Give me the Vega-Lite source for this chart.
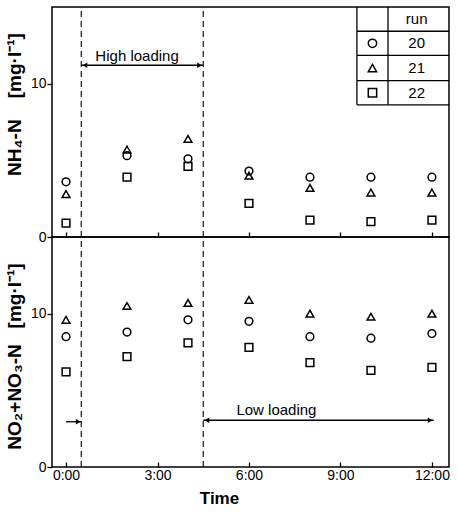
{
  "$schema": "https://vega.github.io/schema/vega-lite/v6.json",
  "padding": {"left": 4, "top": 5, "right": 8, "bottom": 5},
  "spacing": 0,
  "bounds": "flush",
  "config": {
    "font": "Liberation Sans",
    "view": {"stroke": "black", "strokeWidth": 1.5},
    "axis": {
      "domain": false, "grid": false,
      "tickColor": "black", "tickWidth": 1.3,
      "labelColor": "black", "titleColor": "black",
      "labelFontSize": 14, "titleFontSize": 19, "titleFontWeight": "bold"
    },
    "text": {"color": "black", "font": "Liberation Sans"}
  },
  "datasets": {
    "obs": [
      {"panel": "NH4", "t": 0, "run": "20", "v": 3.6},
      {"panel": "NH4", "t": 0, "run": "21", "v": 2.8},
      {"panel": "NH4", "t": 0, "run": "22", "v": 0.9},
      {"panel": "NH4", "t": 2, "run": "20", "v": 5.3},
      {"panel": "NH4", "t": 2, "run": "21", "v": 5.7},
      {"panel": "NH4", "t": 2, "run": "22", "v": 3.9},
      {"panel": "NH4", "t": 4, "run": "20", "v": 5.1},
      {"panel": "NH4", "t": 4, "run": "21", "v": 6.4},
      {"panel": "NH4", "t": 4, "run": "22", "v": 4.6},
      {"panel": "NH4", "t": 6, "run": "20", "v": 4.3},
      {"panel": "NH4", "t": 6, "run": "21", "v": 4.0},
      {"panel": "NH4", "t": 6, "run": "22", "v": 2.2},
      {"panel": "NH4", "t": 8, "run": "20", "v": 3.9},
      {"panel": "NH4", "t": 8, "run": "21", "v": 3.2},
      {"panel": "NH4", "t": 8, "run": "22", "v": 1.1},
      {"panel": "NH4", "t": 10, "run": "20", "v": 3.9},
      {"panel": "NH4", "t": 10, "run": "21", "v": 2.9},
      {"panel": "NH4", "t": 10, "run": "22", "v": 1.0},
      {"panel": "NH4", "t": 12, "run": "20", "v": 3.9},
      {"panel": "NH4", "t": 12, "run": "21", "v": 2.9},
      {"panel": "NH4", "t": 12, "run": "22", "v": 1.1},
      {"panel": "NOX", "t": 0, "run": "20", "v": 8.5},
      {"panel": "NOX", "t": 0, "run": "21", "v": 9.6},
      {"panel": "NOX", "t": 0, "run": "22", "v": 6.2},
      {"panel": "NOX", "t": 2, "run": "20", "v": 8.8},
      {"panel": "NOX", "t": 2, "run": "21", "v": 10.5},
      {"panel": "NOX", "t": 2, "run": "22", "v": 7.2},
      {"panel": "NOX", "t": 4, "run": "20", "v": 9.6},
      {"panel": "NOX", "t": 4, "run": "21", "v": 10.7},
      {"panel": "NOX", "t": 4, "run": "22", "v": 8.1},
      {"panel": "NOX", "t": 6, "run": "20", "v": 9.5},
      {"panel": "NOX", "t": 6, "run": "21", "v": 10.9},
      {"panel": "NOX", "t": 6, "run": "22", "v": 7.8},
      {"panel": "NOX", "t": 8, "run": "20", "v": 8.5},
      {"panel": "NOX", "t": 8, "run": "21", "v": 10.0},
      {"panel": "NOX", "t": 8, "run": "22", "v": 6.8},
      {"panel": "NOX", "t": 10, "run": "20", "v": 8.4},
      {"panel": "NOX", "t": 10, "run": "21", "v": 9.8},
      {"panel": "NOX", "t": 10, "run": "22", "v": 6.3},
      {"panel": "NOX", "t": 12, "run": "20", "v": 8.7},
      {"panel": "NOX", "t": 12, "run": "21", "v": 10.0},
      {"panel": "NOX", "t": 12, "run": "22", "v": 6.5}
    ],
    "dashes": [
      {"t": 0.5, "v": 0, "t2": 0.5, "v2": 15},
      {"t": 4.5, "v": 0, "t2": 4.5, "v2": 15}
    ],
    "segs": [
      {"panel": "NH4", "t": 0.5, "v": 11.2, "t2": 4.5, "v2": 11.2},
      {"panel": "NH4", "t": 9.54, "v": 15, "t2": 9.54, "v2": 8.62},
      {"panel": "NH4", "t": 10.56, "v": 15, "t2": 10.56, "v2": 8.62},
      {"panel": "NH4", "t": 9.54, "v": 13.42, "t2": 12.56, "v2": 13.42},
      {"panel": "NH4", "t": 9.54, "v": 11.84, "t2": 12.56, "v2": 11.84},
      {"panel": "NH4", "t": 9.54, "v": 10.2, "t2": 12.56, "v2": 10.2},
      {"panel": "NH4", "t": 9.54, "v": 8.62, "t2": 12.56, "v2": 8.62},
      {"panel": "NOX", "t": 0.0, "v": 2.95, "t2": 0.5, "v2": 2.95},
      {"panel": "NOX", "t": 4.5, "v": 3.05, "t2": 12.06, "v2": 3.05}
    ],
    "heads": [
      {"panel": "NH4", "t": 0.62, "v": 11.2, "dir": "left"},
      {"panel": "NH4", "t": 4.38, "v": 11.2, "dir": "right"},
      {"panel": "NOX", "t": 0.4, "v": 2.95, "dir": "right"},
      {"panel": "NOX", "t": 4.62, "v": 3.05, "dir": "left"},
      {"panel": "NOX", "t": 11.94, "v": 3.05, "dir": "right"}
    ],
    "key": [
      {"t": 10.05, "v": 12.63, "run": "20"},
      {"t": 10.05, "v": 11.02, "run": "21"},
      {"t": 10.05, "v": 9.41, "run": "22"}
    ],
    "notes": [
      {"panel": "NH4", "t": 2.33, "v": 11.8, "label": "High loading"},
      {"panel": "NH4", "t": 11.5, "v": 14.2, "label": "run"},
      {"panel": "NH4", "t": 11.5, "v": 12.63, "label": "20"},
      {"panel": "NH4", "t": 11.5, "v": 11.02, "label": "21"},
      {"panel": "NH4", "t": 11.5, "v": 9.41, "label": "22"},
      {"panel": "NOX", "t": 6.9, "v": 3.75, "label": "Low loading"}
    ]
  },
  "vconcat": [
    {
      "width": 397,
      "height": 230,
      "encoding": {
        "x": {
          "field": "t", "type": "quantitative",
          "scale": {"domain": [-0.46, 12.56], "nice": false, "zero": false},
          "axis": {"values": [0, 3, 6, 9, 12], "labels": false, "tickSize": -5, "title": null, "minExtent": 0, "maxExtent": 0}
        },
        "y": {
          "field": "v", "type": "quantitative",
          "scale": {"domain": [0, 15], "nice": false},
          "axis": {"values": [0, 10], "tickSize": 5, "labelPadding": 1, "title": "NH₄-N\u00a0\u00a0\u00a0\u00a0[mg·l⁻¹]", "titlePadding": 6, "titleY": 97}
        }
      },
      "layer": [
        {
          "data": {"name": "dashes"},
          "mark": {"type": "rule", "strokeDash": [6, 4], "strokeWidth": 1.1, "color": "black"},
          "encoding": {"x2": {"field": "t2"}, "y2": {"field": "v2"}}
        },
        {
          "data": {"name": "segs"},
          "transform": [{"filter": "datum.panel === 'NH4'"}],
          "mark": {"type": "rule", "strokeWidth": 1.3, "color": "black"},
          "encoding": {"x2": {"field": "t2"}, "y2": {"field": "v2"}}
        },
        {
          "data": {"name": "heads"},
          "transform": [{"filter": "datum.panel === 'NH4' && datum.dir === 'right'"}],
          "mark": {"type": "point", "shape": "triangle-right", "filled": true, "color": "black", "size": 30, "opacity": 1},
          "encoding": {}
        },
        {
          "data": {"name": "heads"},
          "transform": [{"filter": "datum.panel === 'NH4' && datum.dir === 'left'"}],
          "mark": {"type": "point", "shape": "triangle-left", "filled": true, "color": "black", "size": 30, "opacity": 1},
          "encoding": {}
        },
        {
          "data": {"name": "notes"},
          "transform": [{"filter": "datum.panel === 'NH4'"}],
          "mark": {"type": "text", "fontSize": 15, "align": "center", "baseline": "middle"},
          "encoding": {"text": {"field": "label"}}
        },
        {
          "data": {"name": "key"},
          "mark": {"type": "point", "filled": false, "color": "black", "strokeWidth": 1.5, "size": 70, "opacity": 1},
          "encoding": {
            "shape": {"field": "run", "type": "nominal", "scale": {"domain": ["20", "21", "22"], "range": ["circle", "triangle-up", "square"]}, "legend": null}
          }
        },
        {
          "data": {"name": "obs"},
          "transform": [{"filter": "datum.panel === 'NH4'"}],
          "mark": {"type": "point", "filled": false, "color": "black", "strokeWidth": 1.5, "size": 60, "opacity": 1},
          "encoding": {
            "shape": {"field": "run", "type": "nominal", "scale": {"domain": ["20", "21", "22"], "range": ["circle", "triangle-up", "square"]}, "legend": null}
          }
        }
      ]
    },
    {
      "width": 397,
      "height": 230,
      "encoding": {
        "x": {
          "field": "t", "type": "quantitative",
          "scale": {"domain": [-0.46, 12.56], "nice": false, "zero": false},
          "axis": {"values": [0, 3, 6, 9, 12], "tickSize": -5, "labelPadding": 6, "labelExpr": "datum.value + ':00'", "title": "Time", "titleFontSize": 17, "titleFontWeight": "bold", "titleX": 167, "titlePadding": 8}
        },
        "y": {
          "field": "v", "type": "quantitative",
          "scale": {"domain": [0, 15], "nice": false},
          "axis": {"values": [0, 10], "tickSize": 5, "labelPadding": 1, "title": "NO₂+NO₃-N\u00a0\u00a0\u00a0[mg·l⁻¹]", "titlePadding": 6, "titleY": 119}
        }
      },
      "layer": [
        {
          "data": {"name": "dashes"},
          "mark": {"type": "rule", "strokeDash": [6, 4], "strokeWidth": 1.1, "color": "black"},
          "encoding": {"x2": {"field": "t2"}, "y2": {"field": "v2"}}
        },
        {
          "data": {"name": "segs"},
          "transform": [{"filter": "datum.panel === 'NOX'"}],
          "mark": {"type": "rule", "strokeWidth": 1.3, "color": "black"},
          "encoding": {"x2": {"field": "t2"}, "y2": {"field": "v2"}}
        },
        {
          "data": {"name": "heads"},
          "transform": [{"filter": "datum.panel === 'NOX' && datum.dir === 'right'"}],
          "mark": {"type": "point", "shape": "triangle-right", "filled": true, "color": "black", "size": 30, "opacity": 1},
          "encoding": {}
        },
        {
          "data": {"name": "heads"},
          "transform": [{"filter": "datum.panel === 'NOX' && datum.dir === 'left'"}],
          "mark": {"type": "point", "shape": "triangle-left", "filled": true, "color": "black", "size": 30, "opacity": 1},
          "encoding": {}
        },
        {
          "data": {"name": "notes"},
          "transform": [{"filter": "datum.panel === 'NOX'"}],
          "mark": {"type": "text", "fontSize": 15, "align": "center", "baseline": "middle"},
          "encoding": {"text": {"field": "label"}}
        },
        {
          "data": {"name": "obs"},
          "transform": [{"filter": "datum.panel === 'NOX'"}],
          "mark": {"type": "point", "filled": false, "color": "black", "strokeWidth": 1.5, "size": 60, "opacity": 1},
          "encoding": {
            "shape": {"field": "run", "type": "nominal", "scale": {"domain": ["20", "21", "22"], "range": ["circle", "triangle-up", "square"]}, "legend": null}
          }
        }
      ]
    }
  ]
}
